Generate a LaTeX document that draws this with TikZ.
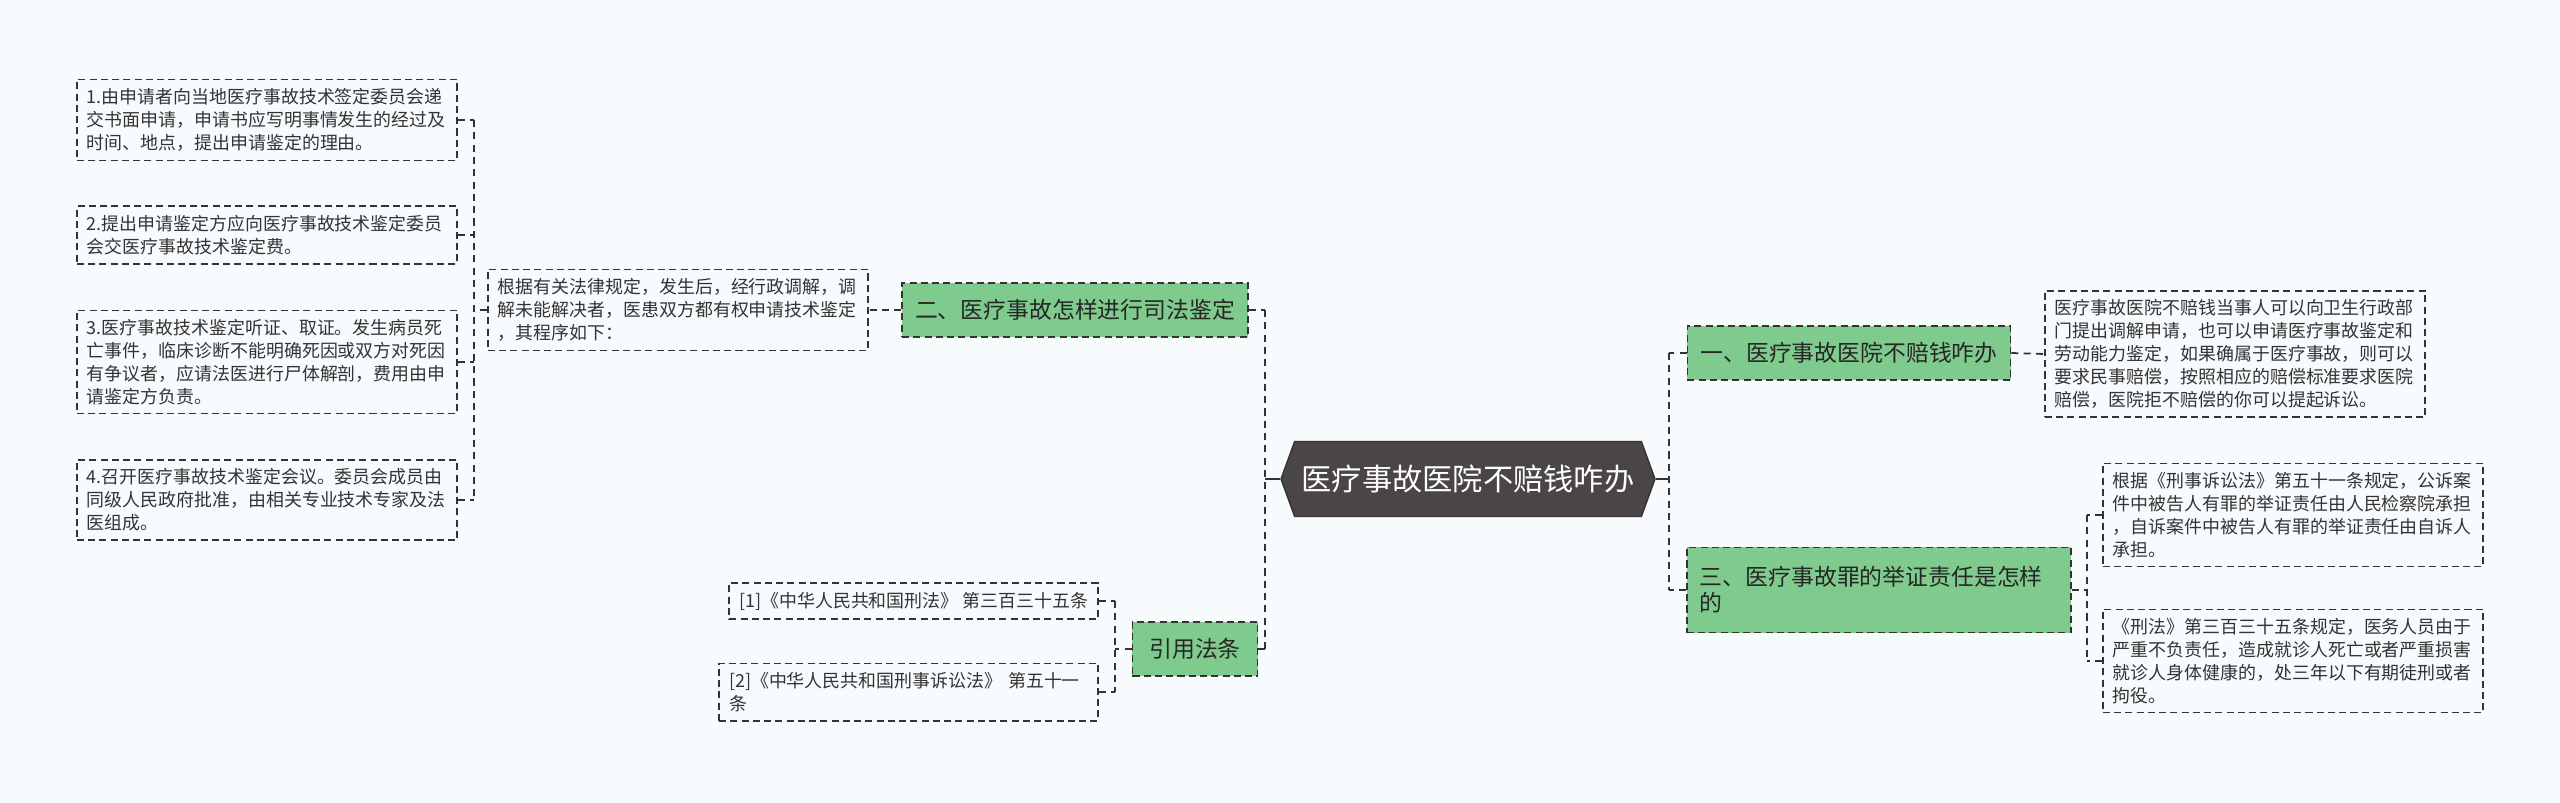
\documentclass[tikz,border=0pt]{standalone}
\usepackage{fontspec}
\setmainfont{Noto Sans CJK SC}
\usetikzlibrary{shapes.symbols}
\definecolor{Paper}{HTML}{F8FBFD}
\definecolor{Ink}{HTML}{333333}
\definecolor{Leafgreen}{HTML}{7FCB8D}
\definecolor{Rootgray}{HTML}{4A4646}

\begin{document}
\begin{tikzpicture}[
  x=0.01cm, y=-0.01cm,
  leaf/.style={
    draw=Ink,
    line width=0.45pt,
    dash pattern=on 2pt off 1.2pt,
    rectangle,
    align=left,
    text=Ink,
    font=\fontsize{5.1pt}{6.5pt}\selectfont,
    inner xsep=0.1cm,
    inner ysep=0.09cm
  },
  wideleaf/.style={leaf, text width=3.6cm},
  topic/.style={
    draw=Ink,
    line width=0.45pt,
    dash pattern=on 2pt off 1.2pt,
    fill=Leafgreen,
    rectangle,
    align=left,
    text=black!85,
    font=\fontsize{6.5pt}{7.4pt}\selectfont,
    inner xsep=0.13cm,
    inner ysep=0.1cm,
    minimum height=0.54cm
  },
  root/.style={
    signal,
    signal to=west and east,
    signal pointer angle=140,
    fill=Rootgray,
    draw=black!80,
    line width=0.4pt,
    text=white,
    font=\fontsize{8.6pt}{10pt}\selectfont,
    minimum height=0.75cm,
    inner xsep=0.07cm
  },
  link/.style={
    draw=Ink,
    line width=0.5pt,
    dash pattern=on 2pt off 1.5pt
  },
  stem/.style={draw=Ink, line width=0.6pt}
]

% Page
\fill[Paper] (0,0) rectangle (2560,803);
\useasboundingbox (0,0) rectangle (2560,803);

% Root
\node[root] (main) at (1468,479) {医疗事故医院不赔钱咋办};

% Left branch: judicial appraisal
\node[topic] (appr) at (1075,310) {二、医疗事故怎样进行司法鉴定};
\node[wideleaf] (intro) at (678,310)
  {根据有关法律规定，发生后，经行政调解，调\\解未能解决者，医患双方都有权申请技术鉴定\\，其程序如下：};
\node[wideleaf] (step1) at (267,120)
  {1.由申请者向当地医疗事故技术签定委员会递\\交书面申请，申请书应写明事情发生的经过及\\时间、地点，提出申请鉴定的理由。};
\node[wideleaf] (step2) at (267,235)
  {2.提出申请鉴定方应向医疗事故技术鉴定委员\\会交医疗事故技术鉴定费。};
\node[wideleaf] (step3) at (267,362)
  {3.医疗事故技术鉴定听证、取证。发生病员死\\亡事件，临床诊断不能明确死因或双方对死因\\有争议者，应请法医进行尸体解剖，费用由申\\请鉴定方负责。};
\node[wideleaf] (step4) at (267,500)
  {4.召开医疗事故技术鉴定会议。委员会成员由\\同级人民政府批准，由相关专业技术专家及法\\医组成。};

% Left branch: cited articles
\node[topic, minimum width=1.25cm, align=center] (cite) at (1195,649) {引用法条};
\node[leaf, anchor=east] (ref1) at (1099,601) {[1]《中华人民共和国刑法》 第三百三十五条};
\node[leaf, anchor=east, text width=3.59cm] (ref2) at (1099,692)
  {[2]《中华人民共和国刑事诉讼法》 第五十一\\条};

% Right branch
\node[topic] (what) at (1849,353) {一、医疗事故医院不赔钱咋办};
\node[wideleaf] (whatnote) at (2235,354)
  {医疗事故医院不赔钱当事人可以向卫生行政部\\门提出调解申请，也可以申请医疗事故鉴定和\\劳动能力鉴定，如果确属于医疗事故，则可以\\要求民事赔偿，按照相应的赔偿标准要求医院\\赔偿，医院拒不赔偿的你可以提起诉讼。};
\node[topic, text width=3.58cm, minimum height=0.85cm] (proof) at (1879,590)
  {三、医疗事故罪的举证责任是怎样\\的};
\node[wideleaf] (proofa) at (2293,515)
  {根据《刑事诉讼法》第五十一条规定，公诉案\\件中被告人有罪的举证责任由人民检察院承担\\，自诉案件中被告人有罪的举证责任由自诉人\\承担。};
\node[wideleaf] (proofb) at (2293,661)
  {《刑法》第三百三十五条规定，医务人员由于\\严重不负责任，造成就诊人死亡或者严重损害\\就诊人身体健康的，处三年以下有期徒刑或者\\拘役。};

% Junction points
\coordinate (ltrunk) at (1265,479);
\coordinate (rtrunk) at (1669,479);
\coordinate (stepbar) at (474,310);
\coordinate (refbar) at (1115,649);
\coordinate (proofbar) at (2087,590);

% Root to trunks
\draw[stem] (main.west) -- (ltrunk);
\draw[stem] (main.east) -- (rtrunk);
\draw[link] (appr.east -| ltrunk) -- (cite.east -| ltrunk);
\draw[link] (what.west -| rtrunk) -- (proof.west -| rtrunk);
\draw[link] (appr.east) -- (appr.east -| ltrunk);
\draw[link] (cite.east) -- (cite.east -| ltrunk);
\draw[link] (what.west) -- (what.west -| rtrunk);
\draw[link] (proof.west) -- (proof.west -| rtrunk);

% Judicial appraisal steps
\draw[link] (appr.west) -- (intro.east);
\draw[link] (intro.west) -- (stepbar);
\draw[link] (step1.east -| stepbar) -- (step4.east -| stepbar);
\foreach \s in {step1,step2,step3,step4}
  \draw[link] (\s.east) -- (\s.east -| stepbar);

% Cited articles
\draw[link] (cite.west) -- (refbar);
\draw[link] (ref1.east -| refbar) -- (ref2.east -| refbar);
\foreach \r in {ref1,ref2}
  \draw[link] (\r.east) -- (\r.east -| refbar);

% Right notes
\draw[link] (what.east) -- (whatnote.west);
\draw[link] (proof.east) -- (proofbar);
\draw[link] (proofa.west -| proofbar) -- (proofb.west -| proofbar);
\foreach \p in {proofa,proofb}
  \draw[link] (\p.west) -- (\p.west -| proofbar);

\end{tikzpicture}
\end{document}
